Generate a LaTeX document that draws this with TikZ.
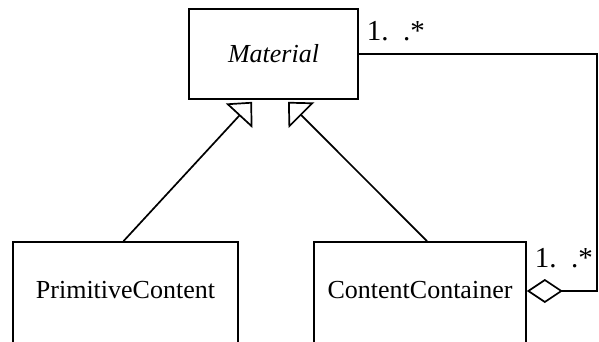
\documentclass[tikz,border=0pt]{standalone}
\usepackage{fontspec}
\setmainfont{Liberation Serif}
\usetikzlibrary{arrows.meta}

\begin{document}
\begin{tikzpicture}[x=1pt, y=-1pt, line width=1.7pt,
  umlclass/.style={rectangle, draw, inner sep=0pt, font=\fontsize{26}{30}\selectfont},
  cutclass/.style={umlclass, minimum width=#1, minimum height=120pt,
    text height=18pt, text depth=26pt},
  mult/.style={anchor=base west, inner sep=0pt, font=\fontsize{29}{32}\selectfont},
  inherit/.style={-{Triangle[open, length=19pt, width=36pt]}},
  aggregate/.style={{Diamond[open, length=36pt, width=24pt]}-}]
  \useasboundingbox (0,0) rectangle (599,342);
  \clip (0,0) rectangle (599,342);
  % Classes
  \node[umlclass, minimum width=169pt, minimum height=90pt] (material) at (273.5,54) {\itshape Material};
  \node[cutclass=225pt] (prim) at (125.5,302) {PrimitiveContent};
  \node[cutclass=212pt] (cont) at (420,302) {ContentContainer};
  % Generalisation
  \draw[inherit] ([xshift=-2pt]prim.north) -- ([xshift=-21.5pt, yshift=-2pt]material.south);
  \draw[inherit] ([xshift=7pt]cont.north) -- ([xshift=14.5pt, yshift=-2pt]material.south);
  % Aggregation
  \coordinate (bend) at (597,54);
  \draw[aggregate] ([yshift=11pt]cont.east) -| (bend) -- (material.east);
  \node[mult] (m1) at (366,41) {1.\ \ .*};
  \node[mult] (m2) at (534,267) {1.\ \ .*};
\end{tikzpicture}
\end{document}
